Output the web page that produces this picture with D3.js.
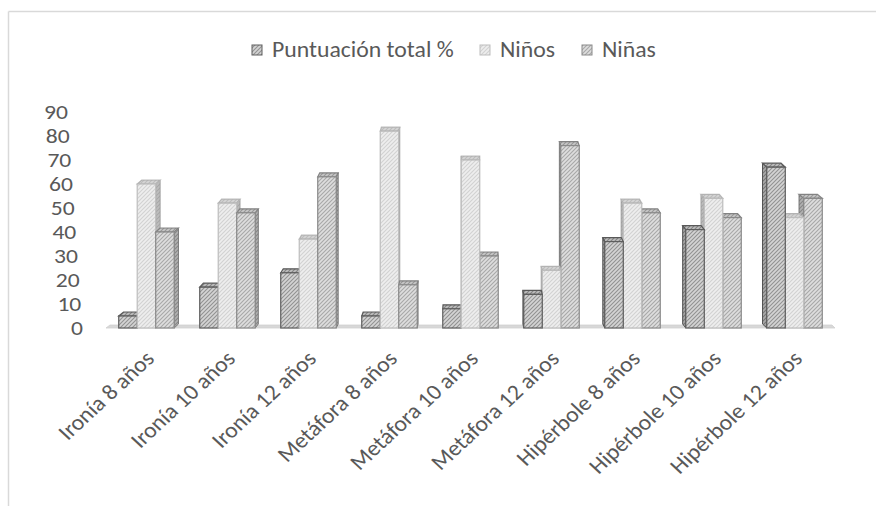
<!DOCTYPE html>
<html>
<head>
<meta charset="utf-8">
<script src="https://cdn.jsdelivr.net/npm/d3@7/dist/d3.min.js"></script>
<style>
  html, body { margin: 0; padding: 0; background: #fff; }
  svg { display: block; }
  text { font-family: Calibri, Carlito, "Open Sans", Lato, sans-serif; fill: #595959; }
</style>
</head>
<body>
<svg id="chart" width="876" height="506"></svg>
<script>
// ---- data ----
const categories = ["Ironía 8 años", "Ironía 10 años", "Ironía 12 años",
  "Metáfora 8 años", "Metáfora 10 años", "Metáfora 12 años",
  "Hipérbole 8 años", "Hipérbole 10 años", "Hipérbole 12 años"];
const seriesNames = ["Puntuación total %", "Niños", "Niñas"];
const puntuacion = [5, 17, 23, 5, 8, 14, 36, 41, 67];
const ninos = [60, 52, 37, 82, 70, 24, 52, 54, 46];
const ninas = [40, 48, 63, 18, 30, 76, 48, 46, 54];
const yTicks = [0, 10, 20, 30, 40, 50, 60, 70, 80, 90];

const seriesValues = [puntuacion, ninos, ninas];

// ---- styles ----
const FONT = 22, STRETCH = 1.08;
const TICK_FONT = 20, TICK_STRETCH = 1.18;
const styles = [
  { bg: "#d4d4d4", stripe: "#929292", stroke: "#5e5e5e" },
  { bg: "#eeeeee", stripe: "#d2d2d2", stroke: "#bdbdbd" },
  { bg: "#dedede", stripe: "#a8a8a8", stroke: "#8a8a8a" }
];

const svg = d3.select("#chart");
const defs = svg.append("defs");
styles.forEach((s, i) => {
  const p = defs.append("pattern")
    .attr("id", "hatch" + i)
    .attr("patternUnits", "userSpaceOnUse")
    .attr("width", 4).attr("height", 4);
  p.append("rect").attr("width", 4).attr("height", 4).attr("fill", s.bg);
  p.append("path")
    .attr("d", "M-1,1 l2,-2 M0,4 l4,-4 M3,5 l2,-2")
    .attr("stroke", s.stripe).attr("stroke-width", 1.1);
});

// frame (partially cropped)
svg.append("line").attr("x1", 8.5).attr("y1", 11.5).attr("x2", 876).attr("y2", 11.5)
  .attr("stroke", "#d9d9d9").attr("stroke-width", 1.5);
svg.append("line").attr("x1", 8.5).attr("y1", 11.5).attr("x2", 8.5).attr("y2", 506)
  .attr("stroke", "#d9d9d9").attr("stroke-width", 1.5);

// ---- scales ----
const x = d3.scaleBand().domain(categories).range([106, 835])
  .paddingInner(0.315).paddingOuter(0.157);
const xs = d3.scaleBand().domain(d3.range(3)).range([0, x.bandwidth()]);
const y = d3.scaleLinear().domain([0, 90]).range([328, 112]);
// perspective skew of tick labels
const tickX = d3.scaleLinear().domain([0, 90]).range([83, 68]);

const vpX = 470, kSide = 0.014, depth = 4;

// floor
svg.append("path")
  .attr("d", `M${x.range()[0]},${y(0)} L${x.range()[1]},${y(0)} L${x.range()[1] - 3},${y(0) - 3} L${x.range()[0] + 4},${y(0) - 3} Z`)
  .attr("fill", "#d8d8d8").attr("stroke", "#d0d0d0").attr("stroke-width", 0.8);

// y tick labels
svg.append("g").selectAll("text").data(yTicks).join("text")
  .attr("transform", d => `translate(${tickX(d)},${y(d)}) scale(${TICK_STRETCH},1)`)
  .attr("dy", "0.34em")
  .attr("text-anchor", "end")
  .attr("font-size", TICK_FONT)
  .text(d => d);

// bars
const bars = [];
categories.forEach((c, ci) => {
  seriesValues.forEach((vals, si) => {
    const x0 = x(c) + xs(si), x1 = x0 + xs.bandwidth();
    bars.push({ c, si, v: vals[ci], x0, x1, cx: (x0 + x1) / 2 });
  });
});
bars.sort((a, b) => Math.abs(b.cx - vpX) - Math.abs(a.cx - vpX));

const barG = svg.append("g");
bars.forEach(b => {
  const s = styles[b.si];
  const yt = y(b.v), yb = y(0);
  const sx = (vpX - b.cx) * kSide;
  const g = barG.append("g");
  const ex = sx >= 0 ? b.x1 : b.x0;
  const sidePts = [[ex, yb], [ex, yt], [ex + sx, yt - depth], [ex + sx, yb - depth]];
  g.append("polygon").attr("points", sidePts.map(p => p.join(",")).join(" "))
    .attr("fill", "url(#hatch" + b.si + ")").attr("stroke", s.stroke).attr("stroke-width", 1);
  g.append("polygon").attr("points", sidePts.map(p => p.join(",")).join(" "))
    .attr("fill", "#000").attr("fill-opacity", 0.2);
  const topPts = [[b.x0, yt], [b.x1, yt], [b.x1 + sx, yt - depth], [b.x0 + sx, yt - depth]];
  g.append("polygon").attr("points", topPts.map(p => p.join(",")).join(" "))
    .attr("fill", "url(#hatch" + b.si + ")").attr("stroke", s.stroke).attr("stroke-width", 1.2);
  g.append("polygon").attr("points", topPts.map(p => p.join(",")).join(" "))
    .attr("fill", "#000").attr("fill-opacity", 0.1);
  g.append("rect").attr("x", b.x0).attr("y", yt).attr("width", b.x1 - b.x0).attr("height", yb - yt)
    .attr("fill", "url(#hatch" + b.si + ")").attr("stroke", s.stroke).attr("stroke-width", 1.2);
});

// x labels
svg.append("g").selectAll("text").data(categories).join("text")
  .attr("transform", d => `translate(${x(d) + x.bandwidth() / 2 + 9},${360}) scale(${STRETCH},1) rotate(-45)`)
  .attr("text-anchor", "end")
  .attr("font-size", FONT)
  .text(d => d);

// legend
const legendX = [252, 480, 582];
const lg = svg.append("g");
seriesNames.forEach((n, i) => {
  lg.append("rect").attr("x", legendX[i]).attr("y", 45).attr("width", 10).attr("height", 10)
    .attr("fill", "url(#hatch" + i + ")").attr("stroke", styles[i].stroke).attr("stroke-width", 1);
  lg.append("text")
    .attr("transform", `translate(${legendX[i] + 20},50) scale(${STRETCH},1)`)
    .attr("dy", "0.34em")
    .attr("font-size", FONT).text(n);
});
</script>
</body>
</html>
